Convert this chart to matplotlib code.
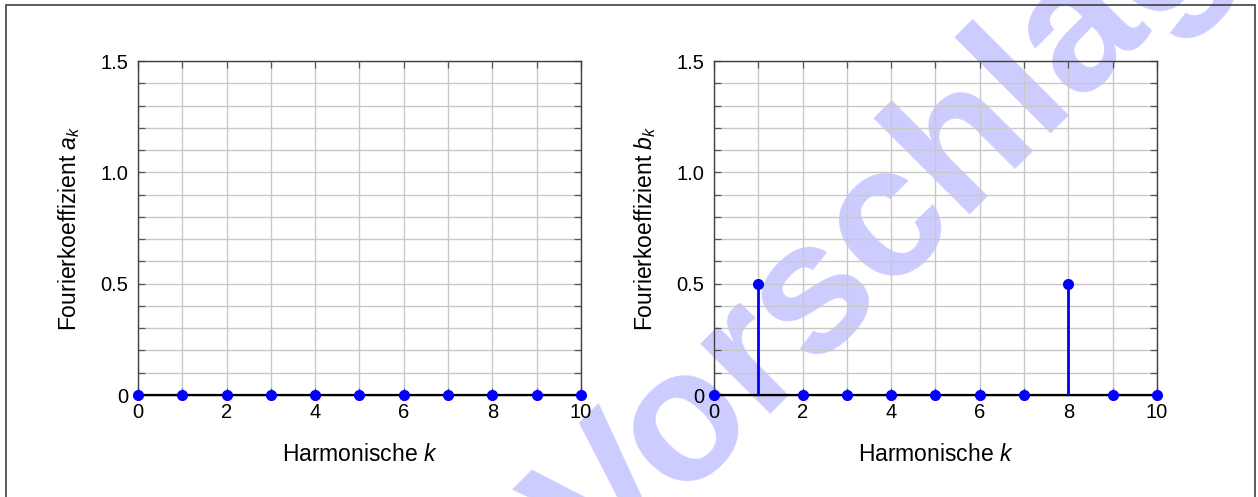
import matplotlib

matplotlib.use("Agg")
import matplotlib.pyplot as plt
from matplotlib.patches import Rectangle
from matplotlib.ticker import MultipleLocator, FixedLocator

plt.rcParams["font.family"] = ["Liberation Sans", "DejaVu Sans"]
plt.rcParams["mathtext.fontset"] = "custom"
plt.rcParams["mathtext.rm"] = "Liberation Sans"
plt.rcParams["mathtext.it"] = "Liberation Sans:italic"

# harmonic index and Fourier coefficients
k = list(range(0, 11))
a_k = [0, 0, 0, 0, 0, 0, 0, 0, 0, 0, 0]
b_k = [0, 0.5, 0, 0, 0, 0, 0, 0, 0.5, 0, 0]
x_ticks = [0, 2, 4, 6, 8, 10]
y_ticks = [0, 0.5, 1.0, 1.5]
y_tick_labels = ["0", "0.5", "1.0", "1.5"]

panels = [
    (a_k, r"Fourierkoeffizient $a_k$", 0.1097),
    (b_k, r"Fourierkoeffizient $b_k$", 0.5676),
]

fig = plt.figure(figsize=(12.58, 4.97), dpi=100)

# watermark behind the axes
fig.text(0.703, 0.535, "Vorschlag", rotation=45, rotation_mode="anchor",
         ha="center", va="center", fontsize=135, fontweight="bold",
         color="#ccccff", zorder=-1)

for values, ylabel, left in panels:
    ax = fig.add_axes([left, 0.2052, 0.352, 0.672])
    ax.set_facecolor("none")

    markerline, stemlines, baseline = ax.stem(k, values, basefmt="k-")
    plt.setp(markerline, color="#0000ff", markersize=7, clip_on=False, zorder=5)
    plt.setp(stemlines, color="#0000ff", linewidth=2, zorder=4)
    plt.setp(baseline, color="black", linewidth=1.6, clip_on=False, zorder=3)

    ax.set_xlim(0, 10)
    ax.set_ylim(0, 1.5)
    ax.xaxis.set_major_locator(FixedLocator(x_ticks))
    ax.xaxis.set_minor_locator(MultipleLocator(1))
    ax.set_yticks(y_ticks)
    ax.set_yticklabels(y_tick_labels)
    ax.yaxis.set_minor_locator(MultipleLocator(0.1))

    ax.grid(True, which="both", color="#c8c8c8", linewidth=1.0, zorder=1)
    ax.set_axisbelow(True)
    ax.tick_params(which="both", direction="in", top=True, right=True,
                   length=5.3, width=0.9, color="#555555")
    ax.tick_params(axis="x", which="major", labelsize=14.5, pad=6)
    ax.tick_params(axis="y", which="major", labelsize=14.5, pad=7)
    for spine in ax.spines.values():
        spine.set_color("#404040")
        spine.set_linewidth(1.0)

    ax.set_xlabel(r"Harmonische $k$", fontsize=16.5, labelpad=15)
    ax.set_ylabel(ylabel, fontsize=16.5, labelpad=13)

# outer frame
fig.patches.append(Rectangle((0.0048, -0.02), 0.9928, 1.009, transform=fig.transFigure,
                             fill=False, edgecolor="#404040", linewidth=1.2))

fig.savefig("out.png", dpi=100)
